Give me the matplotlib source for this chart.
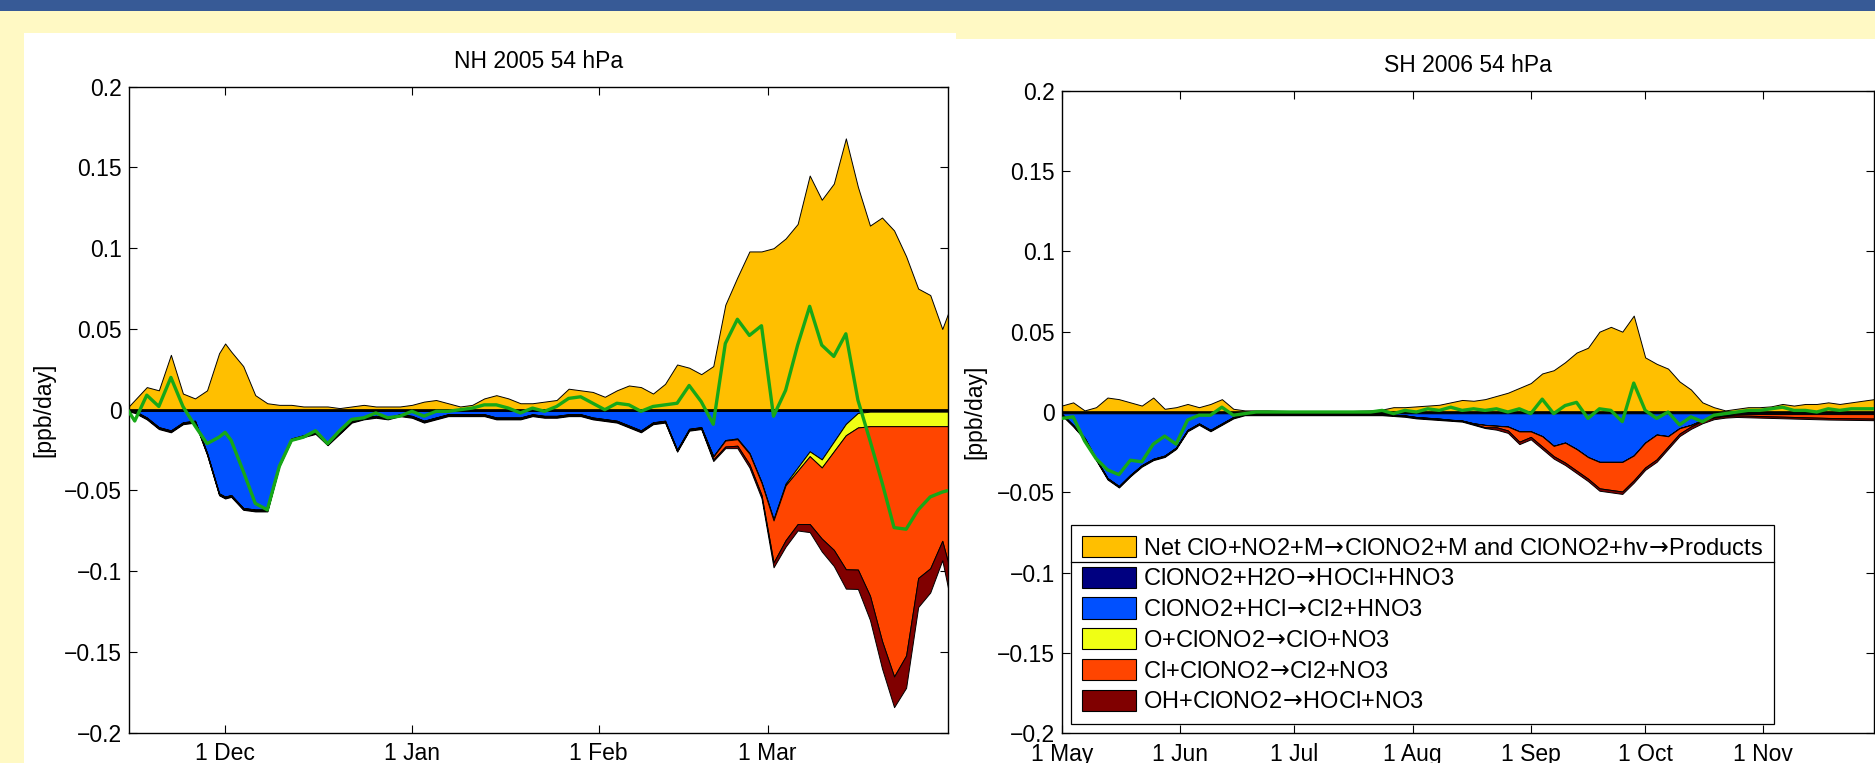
import numpy as np
import matplotlib
matplotlib.use("Agg")
import matplotlib.pyplot as plt
from matplotlib.patches import Rectangle, Patch
from matplotlib.lines import Line2D
from matplotlib.transforms import IdentityTransform

plt.rcParams['font.family'] = ['Liberation Sans', 'DejaVu Sans']
plt.rcParams['axes.unicode_minus'] = True
plt.rcParams['mathtext.fontset'] = 'dejavusans'

# ---------------------------------------------------------------- data
# NH winter 2004/05, days after 15 Nov 2004
nh_start = np.datetime64('2004-11-15')
nh_days = np.r_[0, 1, 3, 5, 7, 9, 11, 13, 15, 16, np.arange(17, 136, 2), 136]

nh_net = [0.002, 0.006, 0.014, 0.012, 0.034, 0.010, 0.007, 0.012, 0.035, 0.041, 0.036,
          0.027, 0.009, 0.004, 0.003, 0.003, 0.002, 0.002, 0.002, 0.001, 0.002,
          0.003, 0.002, 0.002, 0.002, 0.003, 0.005, 0.006, 0.004, 0.002, 0.003,
          0.007, 0.009, 0.007, 0.004, 0.004, 0.005, 0.006, 0.013, 0.012, 0.011,
          0.008, 0.012, 0.015, 0.014, 0.010, 0.016, 0.028, 0.026, 0.022, 0.027,
          0.065, 0.082, 0.098, 0.098, 0.100, 0.106, 0.115, 0.145, 0.130, 0.140,
          0.168, 0.138, 0.114, 0.119, 0.111, 0.095, 0.075, 0.071, 0.050, 0.060]
nh_h2o = [-0.0008] * 71
nh_hcl = [-0.000, -0.000, -0.004, -0.010, -0.012, -0.007, -0.006, -0.026, -0.051, -0.053, -0.052,
          -0.060, -0.061, -0.061, -0.033, -0.017, -0.015, -0.013, -0.020, -0.013, -0.006,
          -0.004, -0.003, -0.004, -0.002, -0.003, -0.006, -0.004, -0.002, -0.002, -0.002,
          -0.002, -0.004, -0.004, -0.004, -0.002, -0.003, -0.003, -0.002, -0.002, -0.004,
          -0.005, -0.006, -0.009, -0.012, -0.007, -0.006, -0.024, -0.011, -0.010, -0.028,
          -0.018, -0.017, -0.026, -0.044, -0.067, -0.045, -0.035, -0.025, -0.030, -0.019,
          -0.008, -0.0012, -0.0004, -0.0004, -0.0004, -0.0004, -0.0004, -0.0004, -0.0004, -0.0004]
nh_o = [-0.0001] + [-0.0002] * 49 + [-0.0003,
        -0.0003, -0.0005, -0.0005, -0.0005, -0.0008, -0.001, -0.002, -0.003, -0.005, -0.006,
        -0.007, -0.009, -0.009, -0.009, -0.009, -0.009, -0.009, -0.009, -0.009, -0.009]
nh_cl = [-0.0001] + [-0.0005] * 49 + [-0.0017,
         -0.0037, -0.004, -0.0065, -0.0075, -0.026, -0.034, -0.033, -0.042, -0.044, -0.061,
         -0.083, -0.088, -0.105, -0.133, -0.155, -0.142, -0.094, -0.088, -0.071, -0.085]
nh_oh = [-0.0001] + [-0.0005] * 49 + [-0.001,
         -0.001, -0.0015, -0.002, -0.002, -0.003, -0.004, -0.004, -0.005, -0.008, -0.010,
         -0.012, -0.012, -0.015, -0.017, -0.019, -0.020, -0.018, -0.015, -0.012, -0.016]
nh_total = [-0.001, -0.007, 0.009, 0.002, 0.020, 0.002, -0.010, -0.021, -0.017, -0.014, -0.019,
            -0.038, -0.058, -0.062, -0.035, -0.019, -0.017, -0.013, -0.021, -0.013, -0.006,
            -0.005, -0.002, -0.005, -0.004, -0.001, -0.004, -0.001, -0.001, 0.000, 0.001,
            0.003, 0.003, 0.001, -0.002, 0.001, -0.001, 0.002, 0.007, 0.008, 0.004,
            0.000, 0.004, 0.003, -0.001, 0.002, 0.003, 0.004, 0.015, 0.005, -0.009,
            0.041, 0.056, 0.046, 0.052, -0.004, 0.012, 0.040, 0.064, 0.040, 0.033,
            0.047, 0.006, -0.019, -0.045, -0.073, -0.074, -0.062, -0.054, -0.051, -0.050]

# SH winter/spring 2006, days after 1 May 2006
sh_start = np.datetime64('2006-05-01')
sh_days = np.r_[np.arange(0, 211, 3), 213]

sh_net = [0.004, 0.006, 0.001, 0.003, 0.009, 0.008, 0.006, 0.004, 0.009, 0.002, 0.003, 0.005,
          0.003, 0.005, 0.008, 0.002, 0.001, 0.001, 0.001, 0.0008, 0.0006, 0.0005, 0.0005, 0.0005,
          0.0005, 0.0005, 0.0008, 0.001, 0.0015, 0.003, 0.003, 0.0035, 0.004, 0.0045, 0.006, 0.0075,
          0.007, 0.008, 0.010, 0.012, 0.015, 0.018, 0.024, 0.026, 0.031, 0.037, 0.040, 0.050,
          0.053, 0.050, 0.060, 0.034, 0.030, 0.027, 0.019, 0.014, 0.006, 0.003, 0.001, 0.002,
          0.003, 0.003, 0.0035, 0.005, 0.004, 0.005, 0.005, 0.006, 0.005, 0.006, 0.007, 0.008]
sh_h2o = [-0.0008] * 72
sh_hcl = [-0.0003, -0.0073, -0.0153, -0.0283, -0.0403, -0.0453, -0.0383, -0.0323, -0.0283, -0.0263, -0.0213, -0.0103,
          -0.0063, -0.0103, -0.0063, -0.0023, -0.0003, -0.0003, -0.0003, -0.0003, -0.0003, -0.0003, -0.0003, -0.0003,
          -0.0003, -0.0003, -0.0003, -0.0003, -0.0003, -0.0008, -0.0013, -0.0023, -0.0028, -0.0033, -0.004, -0.0045,
          -0.0062, -0.0072, -0.0077, -0.0082, -0.0112, -0.0112, -0.0142, -0.0202, -0.0182, -0.0222, -0.0272, -0.0302,
          -0.0302, -0.0302, -0.0262, -0.0182, -0.0132, -0.0142, -0.0092, -0.0072, -0.0042, -0.0022, -0.0012, -0.0004,
          -0.0004, -0.0004, -0.0004, -0.0004, -0.0004, -0.0004, -0.0004, -0.0004, -0.0004, -0.0004, -0.0004, -0.0004]
sh_o = [-0.0001] * 72
sh_cl = [-0.0003] * 34 + [-0.0001, -0.0001,
         -0.0004, -0.0014, -0.0009, -0.0024, -0.0064, -0.0034, -0.0064, -0.0064, -0.0124, -0.0134, -0.0134, -0.0164,
         -0.0174, -0.0184, -0.0154, -0.0154, -0.0154, -0.0064, -0.0034, -0.0009, -0.0004, -0.0004, -0.0004, -0.0008,
         -0.001, -0.0012, -0.0014, -0.0016, -0.0018, -0.002, -0.0022, -0.0024, -0.0025, -0.0026, -0.0027, -0.0028]
sh_oh = [-0.0005] * 38 + [-0.0015] * 19 + [-0.001] * 15
sh_total = [-0.004, -0.003, -0.018, -0.029, -0.036, -0.039, -0.030, -0.031, -0.020, -0.015, -0.020, -0.005,
            -0.002, -0.002, 0.003, -0.002, -0.001, 0.000, 0.000, 0.000, 0.000, 0.000, 0.000, 0.000,
            0.000, 0.000, 0.000, 0.000, 0.001, -0.001, 0.001, 0.000, 0.002, 0.001, 0.003, 0.001,
            0.002, 0.001, 0.002, 0.000, 0.002, -0.001, 0.008, -0.001, 0.004, 0.006, -0.004, 0.002,
            0.001, -0.006, 0.018, 0.001, -0.004, 0.000, -0.008, -0.003, -0.006, -0.002, -0.001, 0.000,
            0.001, 0.001, 0.002, 0.003, 0.001, 0.001, 0.000, 0.002, 0.001, 0.002, 0.002, 0.002]

ARROW = r'$\!\rightarrow\!$'
labels = ['Net ClO+NO2+M' + ARROW + 'ClONO2+M and ClONO2+hv' + ARROW + 'Products',
          'ClONO2+H2O' + ARROW + 'HOCl+HNO3',
          'ClONO2+HCl' + ARROW + 'Cl2+HNO3',
          'O+ClONO2' + ARROW + 'ClO+NO3',
          'Cl+ClONO2' + ARROW + 'Cl2+NO3',
          'OH+ClONO2' + ARROW + 'HOCl+NO3']
colors = ['#ffbf00', '#000080', '#0050ff', '#f0ff14', '#ff4500', '#800000']
green = '#17a817'

yticks = [-0.2, -0.15, -0.1, -0.05, 0, 0.05, 0.1, 0.15, 0.2]
yticklabels = ['\u22120.2', '\u22120.15', '\u22120.1', '\u22120.05', '0', '0.05', '0.1', '0.15', '0.2']

nh_ticks = ['2004-12-01', '2005-01-01', '2005-02-01', '2005-03-01']
nh_ticklabels = ['1 Dec', '1 Jan', '1 Feb', '1 Mar']
sh_ticks = ['2006-05-01', '2006-06-01', '2006-07-01', '2006-08-01', '2006-09-01', '2006-10-01', '2006-11-01']
sh_ticklabels = ['1 May', '1 Jun', '1 Jul', '1 Aug', '1 Sep', '1 Oct', '1 Nov']

# ---------------------------------------------------------------- figure
W, H = 1875, 763
fig = plt.figure(figsize=(W / 100, H / 100), dpi=100)
fig.patch.set_facecolor('#fff9c4')


def px_box(x0, y0, x1, y1):
    """Pixel box (origin top-left) -> figure fraction [l, b, w, h]."""
    return [x0 / W, 1 - y1 / H, (x1 - x0) / W, (y1 - y0) / H]


def add_bg(x0, y0, x1, y1, color):
    l, b, w, h = px_box(x0, y0, x1, y1)
    fig.add_artist(Rectangle((l, b), w, h, transform=fig.transFigure,
                             facecolor=color, edgecolor='none', zorder=-10))


add_bg(0, 0, W, 11, '#375a96')
add_bg(24, 33, 956, H, 'white')
add_bg(956, 39, W, H, 'white')

FS = 16.5


def draw_panel(rect, start, days, net, negs, total, xlim, ticks, ticklabels, title, ylab_x):
    ax = fig.add_axes(px_box(*rect))
    x = start + days.astype('timedelta64[D]')
    ax.fill_between(x, 0, net, facecolor=colors[0], edgecolor='k', lw=0.7, zorder=2)
    base = np.zeros(len(days))
    for vals, c in zip(negs, colors[1:]):
        low = base + np.asarray(vals)
        ax.fill_between(x, base, low, facecolor=c, edgecolor='k', lw=0.7, zorder=2)
        base = low
    ax.axhline(0, color='k', lw=1.2, zorder=3)
    ax.plot(x, total, color=green, lw=2.4, zorder=4)

    ax.set_xlim(np.datetime64(xlim[0]), np.datetime64(xlim[1]))
    ax.set_ylim(-0.2, 0.2)
    ax.set_yticks(yticks)
    ax.set_yticklabels(yticklabels)
    ax.set_xticks([np.datetime64(t) for t in ticks])
    ax.set_xticklabels(ticklabels)
    ax.tick_params(direction='in', length=6, width=0.8, top=True, right=True,
                   labelsize=FS, pad=5)
    ax.tick_params(axis='x', pad=7)
    for s in ax.spines.values():
        s.set_linewidth(1.0)
    ax.set_title(title, fontsize=FS, pad=13.5)
    ax.set_ylabel('[ppb/day]', fontsize=FS)
    ax.yaxis.set_label_coords(ylab_x, 0.5)
    return ax


ax1 = draw_panel((128.7, 86.7, 948.3, 732.7), nh_start, nh_days, nh_net,
                 [nh_h2o, nh_hcl, nh_o, nh_cl, nh_oh], nh_total,
                 ('2004-11-15', '2005-03-31'), nh_ticks, nh_ticklabels, 'NH 2005 54 hPa', -0.090)
ax2 = draw_panel((1061.7, 90.7, 1874, 733.3), sh_start, sh_days, sh_net,
                 [sh_h2o, sh_hcl, sh_o, sh_cl, sh_oh], sh_total,
                 ('2006-05-01', '2006-11-30'), sh_ticks, sh_ticklabels, 'SH 2006 54 hPa', -0.093)

handles = [Patch(facecolor=c, edgecolor='k', lw=0.8) for c in colors]
leg = ax2.legend(handles, labels, loc='lower left', bbox_to_anchor=(0.0114, 0.0145),
                 borderaxespad=0, fontsize=FS + 0.5, frameon=True, fancybox=False,
                 framealpha=1, edgecolor='k', handlelength=2.3, handleheight=1.0,
                 handletextpad=0.3, borderpad=0.45, labelspacing=0.3)
leg.get_frame().set_linewidth(0.9)

# rule separating the first legend entry from the reaction list
fig.canvas.draw()
r = fig.canvas.get_renderer()
hb0 = leg.legend_handles[0].get_window_extent(r)
hb1 = leg.legend_handles[1].get_window_extent(r)
fb = leg.get_frame().get_window_extent(r)
ysep = 0.5 * (hb0.y0 + hb1.y1)
fig.add_artist(Line2D([fb.x0, fb.x1], [ysep, ysep], transform=IdentityTransform(),
                      color='k', lw=0.9, zorder=10))

fig.savefig('out.png', dpi=100, facecolor=fig.get_facecolor())
